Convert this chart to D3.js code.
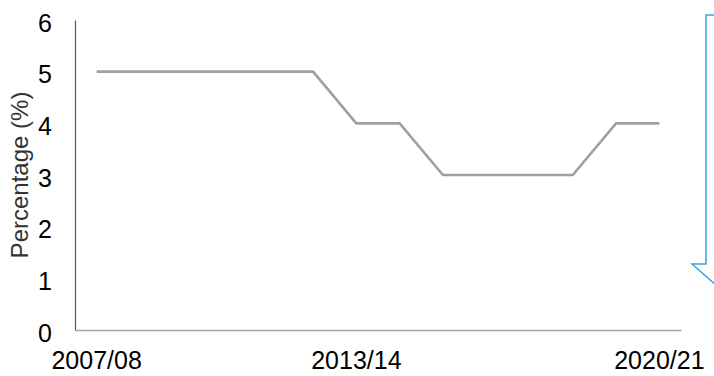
<!DOCTYPE html>
<html>
<head>
<meta charset="utf-8">
<script src="https://cdn.jsdelivr.net/npm/d3@7"></script>
<style>
  html, body { margin: 0; padding: 0; background: #fff; }
  svg { display: block; font-family: "Liberation Sans", Arial, sans-serif; }
</style>
</head>
<body>
<svg id="chart" width="714" height="376"></svg>
<script>
// Financial years on the x axis
const years = ["2007/08", "2008/09", "2009/10", "2010/11", "2011/12", "2012/13", "2013/14",
               "2014/15", "2015/16", "2016/17", "2017/18", "2018/19", "2019/20", "2020/21"];
// Percentage for each year
const percentages = [5, 5, 5, 5, 5, 5, 4, 4, 3, 3, 3, 3, 4, 4];
// Labelled years and y ticks
const xTickLabels = ["2007/08", "2013/14", "2020/21"];
const yTicks = [0, 1, 2, 3, 4, 5, 6];
const yTitle = "Percentage (%)";

const W = 714, H = 376;
const margin = { top: 20, right: 33, bottom: 46, left: 75 };
const svg = d3.select("#chart");

const x = d3.scaleBand().domain(years).range([margin.left, W - margin.right]).padding(0);
const y = d3.scaleLinear().domain([0, 6]).range([H - margin.bottom, margin.top]);
const cx = d => x(d) + x.bandwidth() / 2;

// y axis
const yAxis = svg.append("g")
  .attr("transform", `translate(${margin.left},0)`)
  .call(d3.axisLeft(y).tickValues(yTicks).tickSize(0).tickPadding(23).tickFormat(d3.format("d")));
yAxis.select(".domain").attr("stroke", "#595959").attr("stroke-width", 1.2);
yAxis.selectAll("text").attr("font-size", 25).attr("fill", "#000").attr("dy", 11);

// x axis
const xAxis = svg.append("g")
  .attr("transform", `translate(0,${H - margin.bottom})`)
  .call(d3.axisBottom(x).tickValues(xTickLabels).tickSize(0).tickPadding(0));
xAxis.select(".domain").attr("stroke", "#A6A6A6").attr("stroke-width", 1.6);
xAxis.selectAll("text").attr("font-size", 25).attr("fill", "#000").attr("dy", 39);
xAxis.selectAll(".tick").attr("transform", d => `translate(${cx(d)},0)`);

// y axis title
svg.append("text")
  .attr("transform", `translate(28,${(margin.top + H - margin.bottom) / 2}) rotate(-90)`)
  .attr("text-anchor", "middle")
  .attr("font-size", 24)
  .attr("fill", "#333")
  .text(yTitle);

// data line
const line = d3.line().x((d, i) => cx(years[i])).y(d => y(d));
svg.append("path")
  .datum(percentages)
  .attr("fill", "none")
  .attr("stroke", "#A0A0A0")
  .attr("stroke-width", 2.6)
  .attr("stroke-linejoin", "miter")
  .attr("d", line);

// downward block arrow at the right edge
const arrow = d3.path();
arrow.moveTo(760, 15);
arrow.lineTo(706, 15);
arrow.lineTo(706, 264);
arrow.lineTo(692, 264);
arrow.lineTo(740, 306);
arrow.lineTo(790, 264);
arrow.closePath();
svg.append("path")
  .attr("d", arrow.toString())
  .attr("fill", "none")
  .attr("stroke", "#3FA2DE")
  .attr("stroke-width", 1.5);
</script>
</body>
</html>
